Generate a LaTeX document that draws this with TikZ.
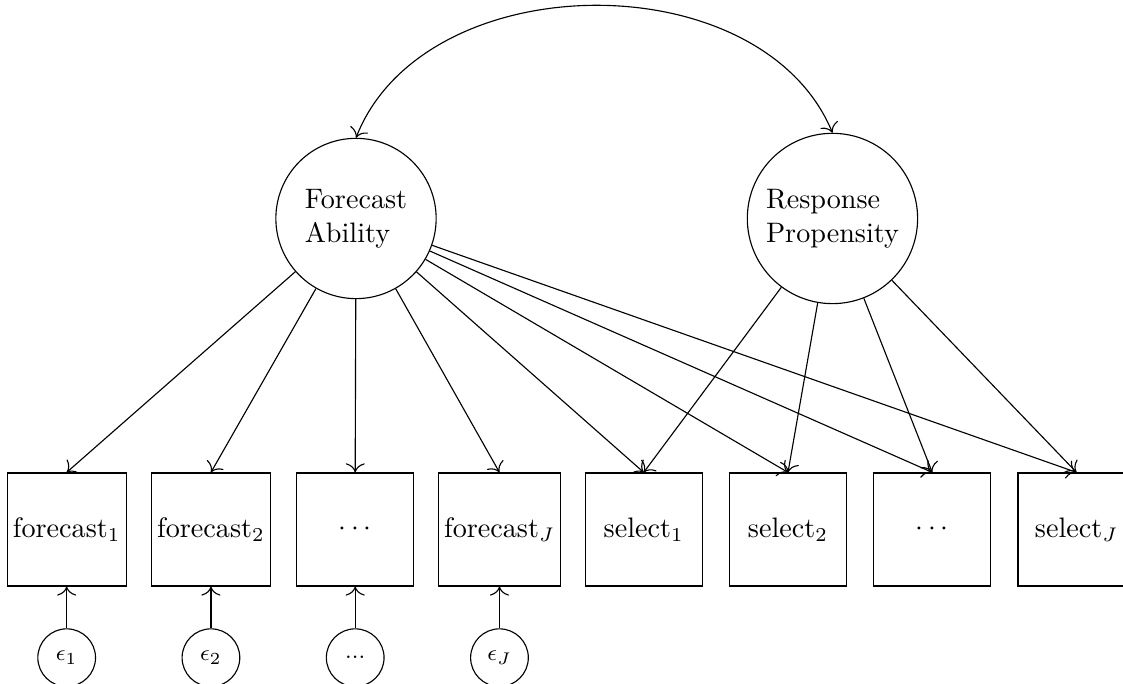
\documentclass[tikz,border=0pt]{standalone}
\usepackage{amssymb}
\usetikzlibrary{arrows.meta,positioning}

\begin{document}
\begin{tikzpicture}[->,>={To[scale=1.3]},node distance=1.8cm,
                    latent/.style={circle,draw,minimum size=2cm,align=left},
                    manifest/.style={rectangle,draw,minimum width=1.46cm,minimum height=1.41cm,inner sep=2pt},
                    error/.style={circle,draw,minimum size=0.72cm,inner sep=1pt,font=\footnotesize}]

  \useasboundingbox (-4.442,-5.808) rectangle (9.570,2.726);

  \node[latent]   (FA) at (0,0)     {Forecast\\Ability};
  \node[latent]   (RP) at (5.945,0) {Response\\Propensity};

  \node[manifest] (f1) at (-3.61,-3.88) {forecast$_1$};
  \node[manifest] (f2) [right of=f1] {forecast$_2$};
  \node[manifest] (f3) [right of=f2] {$\cdots$};
  \node[manifest] (fJ) [right of=f3] {forecast$_J$};
  \node[manifest] (s1) [right of=fJ] {select$_1$};
  \node[manifest] (s2) [right of=s1] {select$_2$};
  \node[manifest] (s3) [right of=s2] {$\cdots$};
  \node[manifest] (sJ) [right of=s3] {select$_J$};

  \node[error,node distance=1.6cm] (e1) [below of=f1] {$\epsilon_1$};
  \node[error,node distance=1.6cm] (e2) [below of=f2] {$\epsilon_2$};
  \node[error,node distance=1.6cm] (e3) [below of=f3] {...};
  \node[error,node distance=1.6cm] (eJ) [below of=fJ] {$\epsilon_J$};

  \path (FA) edge (f1.north)
             edge (f2.north)
             edge (f3.north)
             edge (fJ.north)
             edge (s1.north)
             edge (s2.north)
             edge (s3.north)
             edge (sJ.north)
        (RP) edge (s1.north)
             edge (s2.north)
             edge (s3.north)
             edge (sJ.north)
        (e1) edge (f1)
        (e2) edge (f2)
        (e3) edge (f3)
        (eJ) edge (fJ)
        (FA.north) edge [<->,bend left=68] (RP.north);
\end{tikzpicture}
\end{document}
